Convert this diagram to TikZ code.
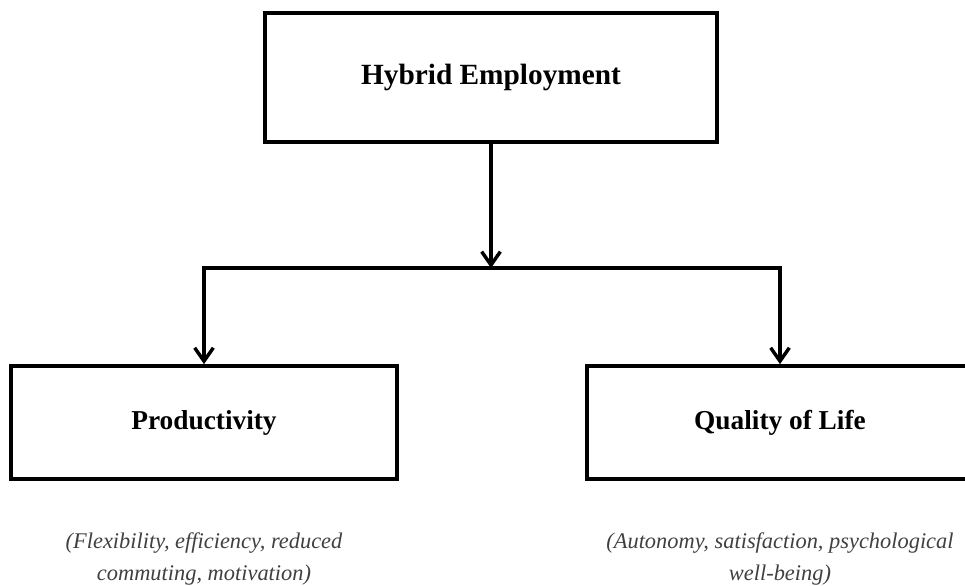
\documentclass[tikz,border=0pt]{standalone}
\usepackage{fontspec}
\setmainfont{Liberation Serif}
\usetikzlibrary{arrows.meta}

\tikzset{
    box/.style={draw, line width=2.8pt, rectangle, inner sep=0pt,
        font=\fontsize{20.5}{24}\selectfont\bfseries},
    note/.style={align=center, text=black!75, inner sep=0pt,
        font=\fontsize{16.8}{24}\selectfont\itshape},
    arr/.style={line width=2.6pt, -{Straight Barb[length=10pt, width=14pt, line width=2.6pt]}}
}

\begin{document}
\begin{tikzpicture}[x=0.75pt, y=-0.75pt]
    % Moldura da figura
    \useasboundingbox (0,0) rectangle (965,586);
    \clip (0,0) rectangle (965,586);

    % Caixas principais
    \node[box, minimum width=339pt, minimum height=96.75pt, font=\fontsize{22}{26}\selectfont\bfseries] (hybrid) at (491,77.5) {Hybrid Employment};
    \node[box, minimum width=290pt, minimum height=84.75pt] (prod) at (204,422.5) {Productivity};
    \node[box, minimum width=290pt, minimum height=84.75pt] (qol) at (780,422.5) {Quality of Life};

    % Descricoes abaixo das caixas
    \node[note] (prodnote) at (204,559) {(Flexibility, efficiency, reduced\\commuting, motivation)};
    \node[note] (qolnote) at (780,559) {(Autonomy, satisfaction, psychological\\well-being)};

    % Ligacoes
    \coordinate (fork) at (491,268);
    \draw[arr] (hybrid.south) -- (fork);
    \draw[arr] (fork) -| (prod.north);
    \draw[arr] (fork) -| (qol.north);
\end{tikzpicture}
\end{document}
